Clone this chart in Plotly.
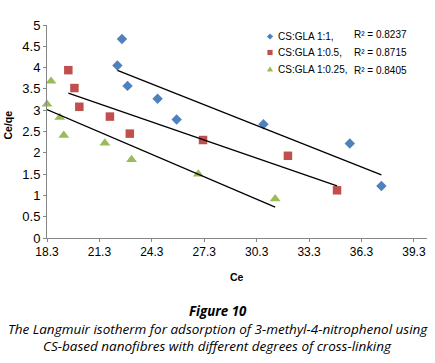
import numpy as np
import plotly.graph_objects as go

# Data
ce_11 = [22.59, 22.33, 22.91, 24.63, 25.72, 30.69, 35.63, 37.44]
y_11 = [4.67, 4.05, 3.57, 3.27, 2.78, 2.67, 2.22, 1.22]
ce_105 = [19.52, 19.87, 20.15, 21.90, 23.04, 27.23, 32.09, 34.90]
y_105 = [3.94, 3.52, 3.08, 2.85, 2.45, 2.30, 1.93, 1.12]
ce_1025 = [18.30, 18.53, 19.03, 19.26, 21.61, 23.14, 26.96, 31.36]
y_1025 = [3.14, 3.68, 2.83, 2.41, 2.23, 1.84, 1.50, 0.92]

names = ["CS:GLA 1:1,", "CS:GLA 1:0.5,", "CS:GLA 1:0.25,"]
r2_labels = ["R² = 0.8237", "R² = 0.8715", "R² = 0.8405"]
x_ticks = [18.3, 21.3, 24.3, 27.3, 30.3, 33.3, 36.3, 39.3]
y_ticks = [0, 0.5, 1, 1.5, 2, 2.5, 3, 3.5, 4, 4.5, 5]

colors = ["#4F81BD", "#C0504D", "#9BBB59"]
symbols = ["diamond", "square", "triangle-up"]
sizes = [8, 8.5, 9.5]

series = [(ce_11, y_11), (ce_105, y_105), (ce_1025, y_1025)]

fig = go.Figure()
for (xs, ys), c, s, sz, n in zip(series, colors, symbols, sizes, names):
    fig.add_trace(go.Scatter(x=xs, y=ys, mode="markers", showlegend=False, name=n,
                             cliponaxis=False,
                             marker=dict(color=c, symbol=s, size=sz, line=dict(width=0))))
    xa = np.array(xs); ya = np.array(ys)
    m, b = np.polyfit(xa, ya, 1)
    xl = np.array([xa.min(), xa.max()])
    fig.add_trace(go.Scatter(x=xl, y=m * xl + b, mode="lines", showlegend=False,
                             line=dict(color="black", width=1.3)))

font = "Arial, Liberation Sans, sans-serif"
axis_common = dict(showline=True, linecolor="#868686", linewidth=1, showgrid=False,
                   zeroline=False, ticks="outside", ticklen=3, tickcolor="#868686",
                   mirror=False)

PL, PT, PW, PH = 47, 25, 380, 213  # plot area in px


def px(xp):
    return (xp - PL) / PW


def py(yp):
    return (PT + PH - yp) / PH


annots = []
shapes = []
# Legend drawn manually (marker glyph + label + R² text)
leg_rows = [36.5, 52.5, 69]
r2_rows = [34, 52.3, 70.5]
mk = 2.6
for i, (n, t, c, s) in enumerate(zip(names, r2_labels, colors, symbols)):
    yc = leg_rows[i]
    xc = 270
    if s == "diamond":
        pts = [(xc, yc - mk * 1.2), (xc + mk * 1.2, yc), (xc, yc + mk * 1.2), (xc - mk * 1.2, yc)]
    elif s == "square":
        pts = [(xc - mk, yc - mk), (xc + mk, yc - mk), (xc + mk, yc + mk), (xc - mk, yc + mk)]
    else:
        pts = [(xc, yc - mk * 1.1), (xc + mk * 1.2, yc + mk), (xc - mk * 1.2, yc + mk)]
    path = "M " + " L ".join(f"{px(a):.5f},{py(b):.5f}" for a, b in pts) + " Z"
    shapes.append(dict(type="path", path=path, xref="paper", yref="paper",
                       fillcolor=c, line=dict(width=0)))
    annots.append(dict(x=px(276.5), y=py(yc), xref="paper", yref="paper",
                       text=n, showarrow=False, xanchor="left", yanchor="middle",
                       xshift=-1, font=dict(size=10)))
    annots.append(dict(x=px(352.5), y=py(r2_rows[i]), xref="paper", yref="paper",
                       text=t, showarrow=False, xanchor="left", yanchor="middle",
                       xshift=-1, font=dict(size=10)))

annots.append(dict(x=px(237), y=py(277), xref="paper", yref="paper",
                   text="<b>Ce</b>", showarrow=False, xanchor="center", yanchor="middle",
                   font=dict(size=10.5)))
annots.append(dict(x=px(7), y=py(125.5), xref="paper", yref="paper",
                   text="<b>Ce/qe</b>", showarrow=False, xanchor="center", yanchor="middle",
                   textangle=-90, font=dict(size=10.5)))
cap_font = "Open Sans, Noto Sans, sans-serif"
cap = [("<b><i>Figure 10</i></b>", 311, 13.3),
       ("<i>The Langmuir isotherm for adsorption of 3-methyl-4-nitrophenol using</i>", 328.5, 13.5),
       ("<i>CS-based nanofibres with different degrees of cross-linking</i>", 346, 13.5)]
for t, yp, fs in cap:
    annots.append(dict(x=px(217.5), y=py(yp), xref="paper", yref="paper",
                       text=t, showarrow=False, xanchor="center", yanchor="middle",
                       font=dict(size=fs, family=cap_font)))

fig.update_layout(
    width=435, height=363,
    margin=dict(l=PL, r=435 - PL - PW, t=PT, b=363 - PT - PH),
    paper_bgcolor="white", plot_bgcolor="white",
    font=dict(family=font, color="black"),
    showlegend=False,
    xaxis=dict(range=[18.3, 40.05], tickvals=x_ticks, ticktext=[f"{v:.1f}" for v in x_ticks],
               tickfont=dict(size=12), **axis_common),
    yaxis=dict(range=[0, 5], tickvals=y_ticks, ticktext=[f"{v:g}" for v in y_ticks],
               tickfont=dict(size=13), **axis_common),
    annotations=annots,
    shapes=shapes,
)

fig.write_html("out.html", config={"displayModeBar": False},
               post_script="document.body.style.margin='0';document.body.style.padding='0';")
